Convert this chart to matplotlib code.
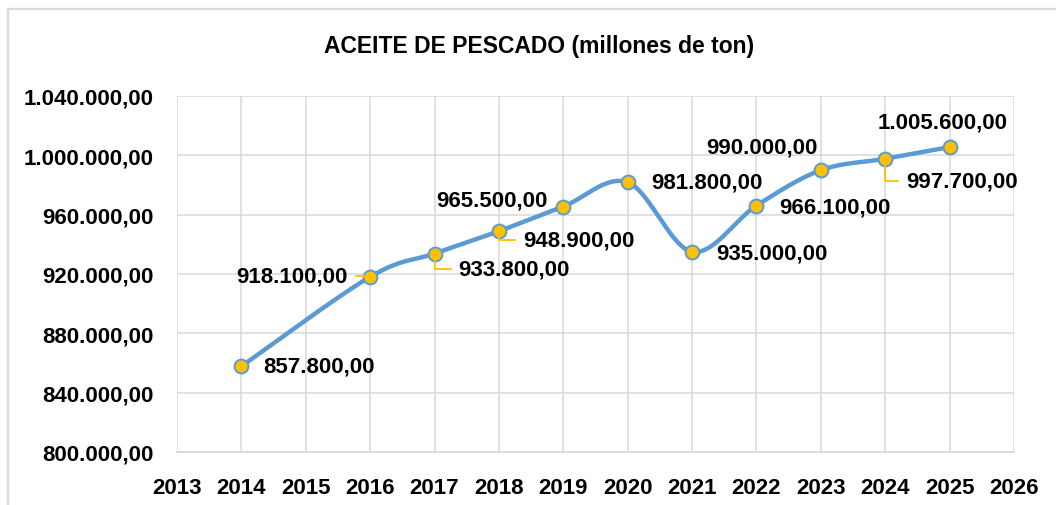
import numpy as np
import matplotlib
matplotlib.use("Agg")
import matplotlib.pyplot as plt
from matplotlib.lines import Line2D
from matplotlib.patches import Rectangle
from matplotlib.ticker import FuncFormatter, MultipleLocator

# ---- data ----
years = [2014, 2016, 2017, 2018, 2019, 2020, 2021, 2022, 2023, 2024, 2025]
values = [857800, 918100, 933800, 948900, 965500, 981800, 935000, 966100, 990000, 997700, 1005600]
title = "ACEITE DE PESCADO (millones de ton)"

# label offsets in pixels (dx, dy up), alignment, leader flag
label_style = [
    (22, 0, "left", False),
    (-23, 1, "right", True),
    (24, -15, "left", True),
    (24, -9, "left", True),
    (-16, 7, "right", False),
    (24, 0, "left", False),
    (24, -1, "left", False),
    (23, -1, "left", False),
    (-3, 23, "right", False),
    (21, -22, "left", True),
    (-7, 25, "center", False),
]

FONT = ["Liberation Sans", "DejaVu Sans"]
plt.rcParams["font.family"] = FONT
plt.rcParams["font.weight"] = "bold"

W, H, DPI = 1056, 506, 100
fig = plt.figure(figsize=(W / DPI, H / DPI), dpi=DPI)
fig.patch.set_facecolor("white")

# chart frame
fig.patches.append(Rectangle((8 / W, -0.1), 1.2, 1 - 10 / H + 0.1, transform=fig.transFigure,
                             fill=False, edgecolor="#D9D9D9", linewidth=1.6))

L, R, T, B = 177, 1014, 97, 453
ax = fig.add_axes([L / W, 1 - B / H, (R - L) / W, (B - T) / H])
ax.set_xlim(2013, 2026)
ax.set_ylim(800000, 1040000)
ax.xaxis.set_major_locator(MultipleLocator(1))
ax.yaxis.set_major_locator(MultipleLocator(40000))


def fmt(v, pos=None):
    s = f"{v:,.2f}"
    return s.replace(",", "X").replace(".", ",").replace("X", ".")


ax.yaxis.set_major_formatter(FuncFormatter(fmt))
ax.xaxis.set_major_formatter(FuncFormatter(lambda v, p: f"{int(round(v))}"))
ax.grid(True, color="#D9D9D9", linewidth=1.1)
ax.set_axisbelow(True)
for s in ax.spines.values():
    s.set_visible(False)
ax.spines["bottom"].set_visible(True)
ax.spines["bottom"].set_color("#D9D9D9")
ax.spines["bottom"].set_linewidth(1.3)
ax.tick_params(length=0, labelsize=16, colors="black")
ax.tick_params(axis="y", pad=17)
ax.tick_params(axis="x", pad=18)
for lab in ax.get_xticklabels() + ax.get_yticklabels():
    lab.set_fontweight("bold")

# smoothed line (Catmull-Rom bezier like Excel)
x = np.array(years, float)
y = np.array(values, float)
px = np.concatenate([[x[0]], x, [x[-1]]])
py = np.concatenate([[y[0]], y, [y[-1]]])
cx, cy = [], []
t = np.linspace(0, 1, 40)
for i in range(1, len(px) - 2):
    p0 = np.array([px[i], py[i]])
    p3 = np.array([px[i + 1], py[i + 1]])
    c1 = p0 + (np.array([px[i + 1], py[i + 1]]) - np.array([px[i - 1], py[i - 1]])) / 6
    c2 = p3 - (np.array([px[i + 2], py[i + 2]]) - np.array([px[i], py[i]])) / 6
    b = ((1 - t) ** 3)[:, None] * p0 + (3 * (1 - t) ** 2 * t)[:, None] * c1 + \
        (3 * (1 - t) * t ** 2)[:, None] * c2 + (t ** 3)[:, None] * p3
    cx.extend(b[:, 0]); cy.extend(b[:, 1])
ax.plot(cx, cy, color="#5B9BD5", linewidth=3.2, solid_capstyle="round", zorder=3)
ax.plot(x, y, linestyle="none", marker="o", markersize=10, markerfacecolor="#FFC000",
        markeredgecolor="#5B9BD5", markeredgewidth=1.4, zorder=4)

fig.text(539 / W, 1 - 47 / H, title, ha="center", va="center", fontsize=16.5, fontweight="bold")

# data labels
for xi, yi, (dx, dy, ha, leader) in zip(years, values, label_style):
    ax.annotate(fmt(yi), (xi, yi), xytext=(dx, dy), textcoords="offset pixels",
                ha=ha, va="center", fontsize=16, fontweight="bold", zorder=5)
    if leader:
        X, Y = ax.transData.transform((xi, yi))
        if ha == "right":
            xs = [X + dx + 9, X - 4]
            ys = [Y + dy, Y + dy]
        else:
            xs = [X, X, X + dx - 8]
            ys = [Y - 5, Y + dy, Y + dy]
        fig.add_artist(Line2D(xs, ys, transform=None, color="#FFC000", linewidth=1.3, zorder=2))

fig.savefig("out.png", dpi=DPI)
